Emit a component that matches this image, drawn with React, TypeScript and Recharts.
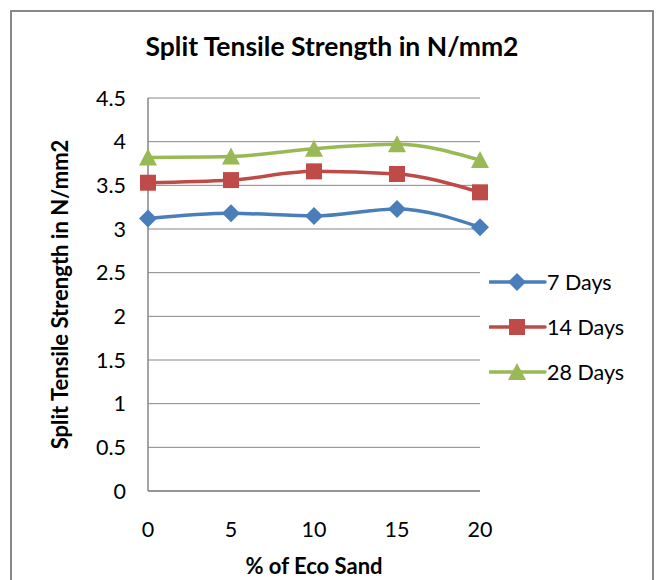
import { CartesianGrid, Legend, Line, LineChart, XAxis, YAxis } from "recharts";

// % of eco sand replacing natural sand
const ecoSand = [0, 5, 10, 15, 20];

// split tensile strength, N/mm2
const days7 = [3.12, 3.18, 3.15, 3.23, 3.02];
const days14 = [3.53, 3.56, 3.66, 3.63, 3.42];
const days28 = [3.82, 3.83, 3.92, 3.97, 3.79];

const yTicks = [0, 0.5, 1, 1.5, 2, 2.5, 3, 3.5, 4, 4.5];

const series = [
  { key: "d7", name: "7 Days", color: "#4A7EBB", shape: "diamond" },
  { key: "d14", name: "14 Days", color: "#BE4B48", shape: "square" },
  { key: "d28", name: "28 Days", color: "#98B954", shape: "triangle" },
];

const data = ecoSand.map((pct, i) => ({
  pct,
  d7: days7[i],
  d14: days14[i],
  d28: days28[i],
}));

const FONT = "Lato, 'Open Sans', sans-serif";
const GRID = "#868686";

const Marker = ({ cx, cy, shape, color }: any) => {
  if (cx == null || cy == null) return null;
  if (shape === "square") {
    return <rect x={cx - 8} y={cy - 8} width={16} height={16} fill={color} />;
  }
  if (shape === "triangle") {
    return (
      <polygon
        points={`${cx},${cy - 9} ${cx + 9},${cy + 8} ${cx - 9},${cy + 8}`}
        fill={color}
      />
    );
  }
  return (
    <polygon
      points={`${cx},${cy - 9} ${cx + 9},${cy} ${cx},${cy + 9} ${cx - 9},${cy}`}
      fill={color}
    />
  );
};

const LegendBox = () => (
  <div style={{ fontFamily: FONT, fontSize: 21.5, color: "#000" }}>
    {series.map((s) => (
      <div
        key={s.key}
        style={{ display: "flex", alignItems: "center", height: 45 }}
      >
        <svg width={58} height={24}>
          <line
            x1={1}
            x2={56}
            y1={12}
            y2={12}
            stroke={s.color}
            strokeWidth={3.5}
            strokeLinecap="round"
          />
          <Marker cx={28} cy={12} shape={s.shape} color={s.color} />
        </svg>
        <span>{s.name}</span>
      </div>
    ))}
  </div>
);

export default function App() {
  return (
    <div
      style={{
        position: "absolute",
        left: 0,
        top: 0,
        width: 657,
        height: 580,
        background: "#fff",
        overflow: "hidden",
      }}
    >
      <div
        style={{
          position: "absolute",
          left: 10,
          top: 10,
          width: 640,
          height: 620,
          border: "2px solid #898989",
        }}
      />
      <div
        style={{
          position: "absolute",
          left: 0,
          top: 31,
          width: 664,
          textAlign: "center",
          fontFamily: FONT,
          fontWeight: 700,
          fontSize: 26.5,
          lineHeight: 1.2,
        }}
      >
        Split Tensile Strength in N/mm2
      </div>
      <div style={{ position: "absolute", left: 0, top: 0 }}>
        <LineChart
          width={657}
          height={580}
          data={data}
          margin={{ top: 98, right: 177, left: 88, bottom: 59 }}
        >
          <CartesianGrid vertical={false} stroke={GRID} strokeWidth={1} />
          <XAxis
            dataKey="pct"
            axisLine={{ stroke: GRID, strokeWidth: 1.5 }}
            tickLine={false}
            tickSize={0}
            tickMargin={31}
            height={30}
            tick={{ fontSize: 21.5, fill: "#000", fontFamily: FONT }}
            label={{
              value: "% of Eco Sand",
              position: "bottom",
              offset: 37,
              style: {
                fontSize: 22,
                fontWeight: 700,
                fill: "#000",
                fontFamily: FONT,
              },
            }}
          />
          <YAxis
            domain={[0, 4.5]}
            ticks={yTicks}
            interval={0}
            width={60}
            axisLine={{ stroke: GRID, strokeWidth: 1.5 }}
            tickLine={false}
            tickSize={0}
            tickMargin={22}
            tick={{ fontSize: 21.5, fill: "#000", fontFamily: FONT }}
            label={{
              value: "Split Tensile Strength in N/mm2",
              angle: -90,
              position: "left",
              offset: 28,
              style: {
                fontSize: 22,
                fontWeight: 700,
                fill: "#000",
                fontFamily: FONT,
                textAnchor: "middle",
              },
            }}
          />
          <Legend
            layout="horizontal"
            verticalAlign="middle"
            align="center"
            content={<LegendBox />}
            wrapperStyle={{ left: 489, top: 259, width: 150 }}
          />
          {series.map((s) => (
            <Line
              key={s.key}
              type="monotone"
              dataKey={s.key}
              name={s.name}
              stroke={s.color}
              strokeWidth={3.5}
              dot={(p: any) => (
                <Marker
                  key={`${s.key}-${p.index}`}
                  cx={p.cx}
                  cy={p.cy}
                  shape={s.shape}
                  color={s.color}
                />
              )}
              activeDot={false}
              isAnimationActive={false}
            />
          ))}
        </LineChart>
      </div>
    </div>
  );
}
